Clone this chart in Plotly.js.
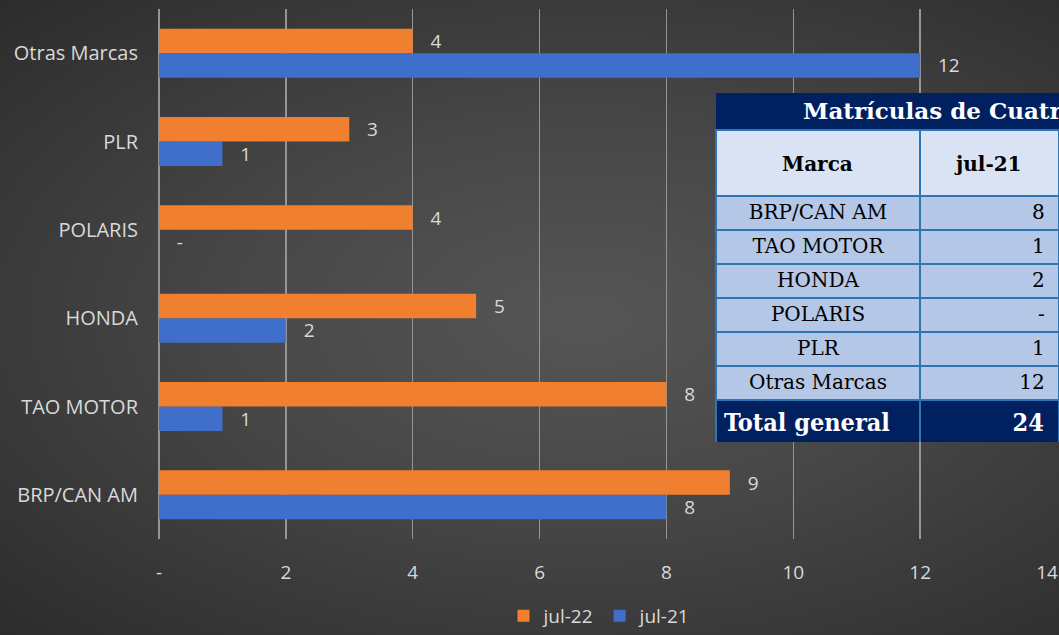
<!DOCTYPE html>
<html>
<head>
<meta charset="utf-8">
<script src="https://cdn.plot.ly/plotly-3.0.1.min.js"></script>
<style>
  html, body { margin: 0; padding: 0; }
  #chart {
    width: 1059px;
    height: 635px;
    background: radial-gradient(ellipse at 55% 50%, #565656 0%, #464646 45%, #2c2c2c 100%);
  }
</style>
</head>
<body>
<div id="chart"></div>
<script>
// Matriculas de cuatrimotos, jul-21 vs jul-22
const brands = ['BRP/CAN AM', 'TAO MOTOR', 'HONDA', 'POLARIS', 'PLR', 'Otras Marcas'];
const jul21 = [8, 1, 2, 0, 1, 12];
const jul22 = [9, 8, 5, 4, 3, 4];
const xTickVals = [0, 2, 4, 6, 8, 10, 12, 14];
const xTickText = ['-', '2', '4', '6', '8', '10', '12', '14'];
const tableTitle = 'Matrículas de Cuatrimotos';
const tableHeaders = ['Marca', 'jul-21'];

const W = 1059, H = 635;
const labelGrey = '#d9d9d9';
const sans = 'Open Sans, sans-serif';
const serif = 'DejaVu Serif, serif';
const serifNarrow = 'DejaVu Serif Condensed, DejaVu Serif, serif';

// zero shows as "-" like the spreadsheet format
const fmt = v => (v === 0 ? '-' : String(v));
const pad = '\u00a0\u00a0\u00a0';

const trace21 = {
    type: 'bar',
    orientation: 'h',
    name: 'jul-21',
    y: brands,
    x: jul21,
    text: jul21.map(fmt),
    texttemplate: pad + '%{text}',
    textposition: 'outside',
    constraintext: 'none',
    cliponaxis: false,
    textfont: { family: sans, size: 19, color: labelGrey },
    marker: { color: '#3f6fcb', line: { width: 0 } },
    hoverinfo: 'skip'
};

const trace22 = {
    type: 'bar',
    orientation: 'h',
    name: 'jul-22',
    y: brands,
    x: jul22,
    text: jul22.map(fmt),
    texttemplate: pad + '%{text}',
    textposition: 'outside',
    constraintext: 'none',
    cliponaxis: false,
    textfont: { family: sans, size: 19, color: labelGrey },
    marker: { color: '#f07f30', line: { width: 0 } },
    hoverinfo: 'skip'
};

// table built from the same arrays
const total21 = jul21.reduce((a, b) => a + b, 0);
const navy = '#002060';
const rowFill = '#b4c7e7';
const colBrand = brands.concat(['<b>Total general</b>']);
const col21 = jul21.map(v => fmt(v) + '\u00a0').concat(['<b>' + total21 + '</b>\u00a0']);
const fills = brands.map(() => rowFill).concat([navy]);
const fontColors = brands.map(() => '#000000').concat(['#ffffff']);
const fontSizes = brands.map(() => 20).concat([25]);
const fontFams = brands.map(() => serif).concat([serifNarrow]);

const tblX0 = 716 / W, tblTop = 130, headH = 66;

const table = {
    type: 'table',
    domain: { x: [tblX0, 1], y: [1 - 442 / H, 1 - tblTop / H] },
    columnwidth: [204, 139],
    header: {
        values: ['', ''],
        height: headH,
        fill: { color: '#dae3f3' },
        line: { color: '#2e75b6', width: 2 },
        font: { family: serif, size: 20, color: '#000000' }
    },
    cells: {
        values: [colBrand, col21],
        height: 34,
        align: [
            brands.map(() => 'center').concat(['left']),
            brands.map(() => 'right').concat(['right'])
        ],
        fill: { color: [fills, fills] },
        line: { color: '#2e75b6', width: 2 },
        font: { family: [fontFams, fontFams], size: [fontSizes, fontSizes], color: [fontColors, fontColors] }
    }
};

// header labels centred in the header cells
const headerCenters = [817, 988];
const headerNotes = tableHeaders.map((t, i) => ({
    xref: 'paper', yref: 'paper',
    x: headerCenters[i] / W, y: 1 - (tblTop + headH / 2 + 1) / H,
    xanchor: 'center', yanchor: 'middle',
    text: '<b>' + t + '</b>',
    showarrow: false,
    font: { family: serif, size: 20, color: '#000000' }
}));

const layout = {
    width: W,
    height: H,
    margin: { l: 0, r: 0, t: 0, b: 0, autoexpand: false },
    paper_bgcolor: 'rgba(0,0,0,0)',
    plot_bgcolor: 'rgba(0,0,0,0)',
    barmode: 'group',
    bargap: 0.445,
    bargroupgap: 0,
    showlegend: true,
    legend: {
        orientation: 'h',
        traceorder: 'reversed',
        x: 600 / W,
        xanchor: 'center',
        y: 0,
        yanchor: 'bottom',
        font: { family: sans, size: 19, color: labelGrey },
        itemwidth: 30
    },
    xaxis: {
        domain: [159 / W, 1047 / W],
        range: [0, 14],
        tickvals: xTickVals,
        ticktext: xTickText,
        showgrid: true,
        gridcolor: '#959595',
        gridwidth: 1.5,
        zeroline: true,
        zerolinecolor: '#959595',
        zerolinewidth: 1.5,
        ticks: '',
        ticklabelstandoff: 20,
        tickfont: { family: sans, size: 19, color: labelGrey },
        fixedrange: true
    },
    yaxis: {
        domain: [1 - 539 / H, 1 - 9 / H],
        type: 'category',
        showgrid: false,
        zeroline: false,
        ticks: '',
        ticklabelstandoff: 20,
        tickfont: { family: sans, size: 20, color: labelGrey },
        fixedrange: true
    },
    shapes: [{
        type: 'rect',
        xref: 'paper', yref: 'paper',
        x0: tblX0, x1: 1.02,
        y0: 1 - 129 / H, y1: 1 - 93 / H,
        fillcolor: navy,
        line: { width: 0 },
        layer: 'above'
    }],
    annotations: [{
        xref: 'paper', yref: 'paper',
        x: 801 / W, y: 1 - 111 / H,
        xanchor: 'left', yanchor: 'middle',
        text: '<b>' + tableTitle + '</b>',
        showarrow: false,
        font: { family: serif, size: 23, color: '#ffffff' }
    }].concat(headerNotes)
};

Plotly.newPlot('chart', [trace21, trace22, table], layout, { displayModeBar: false, staticPlot: true });
</script>
</body>
</html>
